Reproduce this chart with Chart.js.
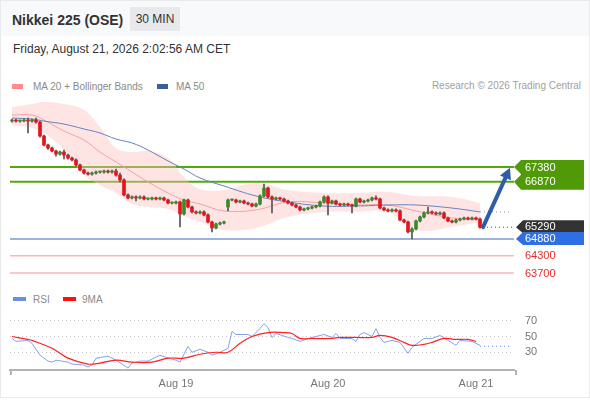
<!DOCTYPE html>
<html>
<head>
<meta charset="utf-8">
<title>Nikkei 225 (OSE)</title>
<script src="https://cdn.jsdelivr.net/npm/chart.js@4.4.1/dist/chart.umd.min.js"></script>
<style>
  html, body { margin: 0; padding: 0; background: #fff; }
  body { width: 590px; height: 400px; position: relative; overflow: hidden; font-family: "Liberation Sans", Arial, sans-serif; }
  #frame { position: absolute; left: 0; top: 0; width: 588px; height: 396px; border: 1px solid #e9eaec; }
  #head { position: absolute; left: 1px; top: 1px; width: 588px; height: 35px; background: #f8f9fa; }
  #title { position: absolute; left: 12px; top: 10px; font-size: 14px; font-weight: bold; color: #333; line-height: 20px; }
  #tf { position: absolute; left: 130px; top: 7px; width: 50px; height: 24px; line-height: 24px; text-align: center; background: #e7e9ec; color: #333; font-size: 12px; }
  #date { position: absolute; left: 13px; top: 41px; font-size: 12px; line-height: 16px; color: #333; }
  .leg { position: absolute; font-size: 10px; line-height: 12px; color: #8a8a8a; white-space: nowrap; }
  .sw { position: absolute; height: 5px; }
  canvas { position: absolute; left: 0; }
</style>
</head>
<body>
<div id="frame"></div>
<div id="head"></div>
<div id="title">Nikkei 225 (OSE)</div>
<div id="tf">30 MIN</div>
<div id="date">Friday, August 21, 2026 2:02:56 AM CET</div>

<div class="sw" style="left:12px;top:84px;width:11px;background:#ff8b8b"></div>
<div class="leg" style="left:33px;top:81px">MA 20 + Bollinger Bands</div>
<div class="sw" style="left:157px;top:84px;width:11px;background:#3a5e9e"></div>
<div class="leg" style="left:176px;top:81px">MA 50</div>
<div class="leg" style="right:9px;top:80px;color:#a0a0a0">Research © 2026 Trading Central</div>

<canvas id="price" width="590" height="190" style="top:95px"></canvas>

<div class="sw" style="left:13px;top:297px;width:13px;height:4px;background:#6b8fe6"></div>
<div class="leg" style="left:33px;top:294px">RSI</div>
<div class="sw" style="left:63px;top:297px;width:13px;height:4px;background:#ff1010"></div>
<div class="leg" style="left:82px;top:294px">9MA</div>

<canvas id="rsi" width="590" height="110" style="top:290px"></canvas>

<script>
// 30-minute candles (index = bar slot)
const opens = [
  68975, 69010, 68975, 68975, 69010, 68975, 69010, 68940, 68455, 68145,
  68040, 67935, 67830, 67900, 67795, 67690, 67625, 67450, 67275, 67170,
  67135, 67170, 67205, 67205, 67240, 67205, 67240, 67100, 66930, 66410,
  66305, 66340, 66305, 66340, 66270, 66270, 66305, 66270, 66305, 66235,
  66130, 66130, 66165, 65750, 66235, 65990, 65820, 65785, 65820, 65715,
  65470, 65265, 65400, 65435, 65990, 66235, 66235, 66165, 66200, 66130,
  66095, 66025, 66095, 66375, 66650, 66340, 66270, 66305, 66270, 66200,
  66130, 66060, 65990, 65890, 65925, 65955, 65990, 66025, 66165, 66340,
  66130, 66200, 66095, 66060, 66095, 66060, 66025, 66270, 66165, 66200,
  66235, 66305, 66270, 65955, 65890, 65855, 65890, 65855, 65540, 65470,
  65125, 65230, 65505, 65645, 65785, 65820, 65785, 65750, 65785, 65610,
  65505, 65470, 65540, 65575, 65610, 65575, 65610, 65575
];
const highs = [
  69045, 69045, 69010, 69045, 69080, 69045, 69080, 68975, 68490, 68180,
  68075, 67970, 67935, 67970, 67830, 67725, 67660, 67485, 67310, 67205,
  67205, 67240, 67240, 67275, 67275, 67275, 67310, 67170, 66965, 66445,
  66375, 66375, 66375, 66375, 66305, 66340, 66340, 66340, 66340, 66270,
  66165, 66200, 66200, 66270, 66270, 66025, 65855, 65855, 65855, 65750,
  65505, 65435, 65470, 65505, 66270, 66270, 66270, 66235, 66235, 66165,
  66130, 66130, 66410, 66790, 66685, 66375, 66340, 66340, 66305, 66235,
  66165, 66095, 66025, 65955, 65990, 66025, 66060, 66200, 66375, 66375,
  66235, 66235, 66130, 66130, 66130, 66095, 66305, 66305, 66235, 66270,
  66340, 66375, 66305, 65990, 65925, 65925, 65925, 65890, 65575, 65505,
  65265, 65540, 65680, 65820, 65990, 65855, 65820, 65820, 65820, 65645,
  65540, 65575, 65610, 65645, 65645, 65645, 65645, 65610
];
const lows = [
  68940, 68940, 68940, 68955, 68560, 68940, 68905, 68420, 68110, 67990,
  67900, 67760, 67795, 67660, 67655, 67590, 67415, 67240, 67135, 67100,
  67100, 67135, 67170, 67170, 67170, 67170, 67065, 66860, 66375, 66270,
  66270, 66200, 66270, 66235, 66235, 66235, 66235, 66235, 66200, 66095,
  66095, 66095, 65300, 65715, 65955, 65785, 65750, 65750, 65680, 65435,
  65125, 65230, 65365, 65400, 65855, 66200, 66130, 66130, 66095, 66060,
  65990, 65990, 66060, 66340, 66305, 65785, 66235, 66235, 66165, 66095,
  66025, 65955, 65855, 65855, 65890, 65925, 65955, 65990, 66130, 65715,
  66095, 66060, 66025, 66025, 66025, 65785, 65990, 66130, 66130, 66165,
  66200, 66235, 65925, 65855, 65820, 65820, 65820, 65505, 65435, 65090,
  64880, 65195, 65470, 65610, 65750, 65750, 65715, 65715, 65575, 65470,
  65435, 65435, 65505, 65540, 65540, 65540, 65540, 65255
];
const closes = [
  69010, 68975, 68975, 69010, 68975, 69010, 68940, 68455, 68145, 68040,
  67935, 67830, 67900, 67795, 67690, 67625, 67450, 67275, 67170, 67135,
  67170, 67205, 67205, 67240, 67205, 67240, 67100, 66930, 66410, 66305,
  66340, 66305, 66340, 66270, 66270, 66305, 66270, 66305, 66235, 66130,
  66130, 66165, 65750, 66235, 65990, 65820, 65785, 65820, 65715, 65470,
  65265, 65400, 65435, 65470, 66235, 66235, 66165, 66200, 66130, 66095,
  66025, 66095, 66375, 66650, 66340, 66270, 66305, 66270, 66200, 66130,
  66060, 65990, 65890, 65925, 65955, 65990, 66025, 66165, 66340, 66130,
  66200, 66095, 66060, 66095, 66060, 66025, 66270, 66165, 66200, 66235,
  66305, 66270, 65955, 65890, 65855, 65890, 65855, 65540, 65470, 65125,
  65230, 65505, 65645, 65785, 65820, 65785, 65750, 65785, 65610, 65505,
  65470, 65540, 65575, 65610, 65575, 65610, 65575, 65290
];

// moving averages / bands, read at these bar slots
const maIdx   = [0, 5, 8, 13, 18, 22, 26, 30, 34, 39, 43, 47, 53, 61, 69, 78, 86, 94, 101, 110, 117];
const ma20    = [69185, 69185, 69010, 68630, 68315, 67900, 67555, 67205, 66860, 66480, 66235, 66095, 65855, 65890, 66165, 66130, 66060, 66060, 65855, 65610, 65540];
const bbUpper = [69460, 69565, 69635, 69565, 69360, 68770, 68040, 67900, 67935, 67690, 67035, 66615, 66580, 66825, 66580, 66480, 66480, 66515, 66375, 66340, 66130];
const bbLower = [68835, 68735, 68560, 67970, 67100, 66755, 66480, 66095, 65990, 65925, 65680, 65470, 65195, 65265, 65645, 65820, 65820, 65820, 65195, 65300, 65470];
const ma50    = [69080, 69045, 68975, 68870, 68700, 68560, 68350, 68215, 67970, 67590, 67310, 67000, 66720, 66375, 66165, 66025, 66025, 66060, 66060, 65955, 65820];

// RSI and its 9 period average
const rsiIdx = [0, 1, 4, 5, 7, 9, 10, 11, 14, 15, 18, 19, 20, 21, 24, 26, 29, 30, 32, 34, 35, 37, 39, 41, 42, 44, 45, 47, 49, 50, 52, 54, 55, 56, 59, 60, 62, 63, 64, 65, 66, 69, 70, 72, 74, 76, 78, 80, 81, 82, 85, 86, 87, 88, 90, 91, 92, 93, 95, 97, 99, 100, 103, 104, 105, 107, 109, 111, 112, 115, 117];
const rsiVal = [47.5, 43.8, 45, 41.3, 26.3, 18.8, 17.5, 20, 17.5, 15, 13.8, 11.3, 13.8, 22.5, 25, 20, 10, 16.3, 18.8, 18.8, 21.3, 26.3, 22.5, 20, 17.5, 37.5, 30, 33.8, 30, 26.3, 30, 35, 56.3, 52.5, 52.5, 50, 60, 66.3, 61.3, 48.8, 53.8, 48.8, 47.5, 43.8, 47.5, 50, 52.5, 48.8, 53.8, 47.5, 47.5, 43.8, 52.5, 55, 50, 60, 48.8, 42.5, 45, 42.5, 28.8, 36.3, 47.5, 47.5, 47.5, 51.3, 45, 38.8, 45, 43.8, 38.8];
const sigIdx = [0, 4, 5, 10, 14, 19, 22, 26, 30, 35, 39, 43, 47, 51, 54, 57, 60, 64, 68, 70, 72, 75, 80, 82, 86, 90, 92, 95, 98, 100, 103, 105, 108, 111, 114, 116];
const sigVal = [50, 46.3, 45, 35, 22.5, 15, 16.3, 20, 17.5, 17.5, 22.5, 22.5, 27.5, 30, 30, 41.3, 50, 55, 55, 53.8, 47.5, 47.5, 47.5, 48.8, 48.8, 48.8, 51.3, 48.8, 42.5, 38.8, 40, 42.5, 47.5, 46.3, 46.3, 43.8];
const rsiLast = 37.5;

// key levels and labels
const resistLevels = [67380, 66870];
const pivotLevel = 64880;
const supportLevels = [64300, 63700];
const lastPrice = 65290;
const arrowTarget = 67350;
const dayTickIdx = [41, 79, 116];
const dayTickText = ['Aug 19', 'Aug 20', 'Aug 21'];
const rsiTicks = [30, 50, 70];

const slotCount = 126;
const slots = Array.from({ length: slotCount }, (_, i) => i);
const lastIdx = closes.length - 1;
const endIdx = slotCount - 1;

const upColor = '#3d8a2c';
const downColor = '#e3141c';
const font = '"Liberation Sans", Arial, sans-serif';
Chart.defaults.font.family = font;

function pts(idx, vals) {
  return idx.map((x, k) => ({ x: x, y: vals[k] }));
}

function hline(ctx, x1, x2, y, color, width, dash) {
  ctx.beginPath();
  ctx.strokeStyle = color;
  ctx.lineWidth = width;
  ctx.setLineDash(dash || []);
  ctx.moveTo(x1, y);
  ctx.lineTo(x2, y);
  ctx.stroke();
  ctx.setLineDash([]);
}

function tag(ctx, tipX, y, color) {
  ctx.beginPath();
  ctx.fillStyle = color;
  ctx.moveTo(tipX, y);
  ctx.lineTo(tipX + 7, y - 7);
  ctx.lineTo(584, y - 7);
  ctx.lineTo(584, y + 6);
  ctx.lineTo(tipX + 7, y + 6);
  ctx.closePath();
  ctx.fill();
}

const levelPlugin = {
  id: 'levels',
  beforeDatasetsDraw(chart) {
    const { ctx, chartArea: a, scales: { y } } = chart;
    ctx.save();
    supportLevels.forEach(v => hline(ctx, a.left, a.right, y.getPixelForValue(v), '#f7b7b7', 1.5));
    hline(ctx, a.left, a.right, y.getPixelForValue(pivotLevel), '#3c67c4', 1.2);
    resistLevels.forEach(v => hline(ctx, a.left, a.right, y.getPixelForValue(v), '#55a80a', 2));
    ctx.restore();
  },
  afterDraw(chart) {
    const { ctx, chartArea: a, scales: { x, y } } = chart;
    ctx.save();
    const xl = x.getPixelForValue(lastIdx) + 3;
    const yl = y.getPixelForValue(lastPrice);
    hline(ctx, xl, a.right + 1, yl, '#555', 1, [1, 3]);

    // target arrow
    const xt = x.getPixelForValue(endIdx - 0.5);
    const yt = y.getPixelForValue(arrowTarget);
    const ang = Math.atan2(yt - yl, xt - xl);
    const hl = 11;
    ctx.strokeStyle = '#2f5ea6';
    ctx.fillStyle = '#2f5ea6';
    ctx.lineWidth = 4;
    ctx.lineCap = 'round';
    ctx.beginPath();
    ctx.moveTo(xl, yl);
    ctx.lineTo(xt - Math.cos(ang) * hl * 0.8, yt - Math.sin(ang) * hl * 0.8);
    ctx.stroke();
    ctx.beginPath();
    ctx.moveTo(xt, yt);
    ctx.lineTo(xt - Math.cos(ang) * hl + Math.sin(ang) * 6, yt - Math.sin(ang) * hl - Math.cos(ang) * 6);
    ctx.lineTo(xt - Math.cos(ang) * hl - Math.sin(ang) * 6, yt - Math.sin(ang) * hl + Math.cos(ang) * 6);
    ctx.closePath();
    ctx.fill();

    // right side labels
    const tipX = a.right;
    const y1 = y.getPixelForValue(resistLevels[0]);
    const y2 = y.getPixelForValue(resistLevels[1]);
    ctx.beginPath();
    ctx.fillStyle = '#4f9a06';
    ctx.moveTo(tipX + 7, y1 - 7);
    ctx.lineTo(584, y1 - 7);
    ctx.lineTo(584, y2 + 8);
    ctx.lineTo(tipX + 7, y2 + 8);
    ctx.lineTo(tipX, y2);
    ctx.lineTo(tipX + 7, y2 - 7);
    ctx.lineTo(tipX + 7, y1 + 7);
    ctx.lineTo(tipX, y1);
    ctx.closePath();
    ctx.fill();
    tag(ctx, tipX + 2, yl, '#333333');
    tag(ctx, tipX + 2, y.getPixelForValue(pivotLevel), '#2f6fe4');

    ctx.font = '11px ' + font;
    ctx.textBaseline = 'middle';
    ctx.fillStyle = '#fff';
    resistLevels.forEach(v => ctx.fillText(String(v), 525, y.getPixelForValue(v) + 0.5));
    ctx.fillText(String(lastPrice), 525, yl);
    ctx.fillText(String(pivotLevel), 525, y.getPixelForValue(pivotLevel));
    ctx.fillStyle = '#ea2a2a';
    supportLevels.forEach(v => ctx.fillText(String(v), 525, y.getPixelForValue(v) + 0.5));
    ctx.restore();
  }
};

new Chart(document.getElementById('price'), {
  type: 'bar',
  data: {
    labels: slots,
    datasets: [
      {
        type: 'bar', order: 0, grouped: false, barThickness: 3, minBarLength: 1,
        data: opens.map((o, i) => [o, closes[i]]),
        backgroundColor: opens.map((o, i) => closes[i] >= o ? upColor : downColor)
      },
      {
        type: 'bar', order: 1, grouped: false, barThickness: 1,
        data: lows.map((l, i) => [l, highs[i]]),
        backgroundColor: '#555'
      },
      {
        type: 'line', order: 2, data: pts(maIdx, ma50),
        borderColor: '#6383c2', borderWidth: 1, pointRadius: 0, tension: 0.4
      },
      {
        type: 'line', order: 3, data: pts(maIdx, ma20),
        borderColor: '#f7a0a0', borderWidth: 1, pointRadius: 0, tension: 0.4
      },
      {
        type: 'line', order: 2, data: [{ x: lastIdx, y: ma50[ma50.length - 1] }, { x: endIdx, y: ma50[ma50.length - 1] }],
        borderColor: '#9db3e0', borderWidth: 1.2, borderDash: [1, 3], pointRadius: 0
      },
      {
        type: 'line', order: 5, data: pts(maIdx, bbUpper), fill: '+1',
        borderColor: 'transparent', backgroundColor: 'rgba(255, 190, 190, 0.42)', pointRadius: 0, tension: 0.4
      },
      {
        type: 'line', order: 6, data: pts(maIdx, bbLower),
        borderColor: 'transparent', pointRadius: 0, tension: 0.4
      }
    ]
  },
  options: {
    responsive: false,
    animation: false,
    layout: { padding: { left: 10, right: 76, top: 0, bottom: 0 } },
    plugins: { legend: { display: false }, tooltip: { enabled: false } },
    scales: {
      x: { display: false, offset: true },
      y: { display: false, min: 63283, max: 69880 }
    }
  },
  plugins: [levelPlugin]
});

// axis end ticks and RSI level labels
const rsiDecor = {
  id: 'rsiDecor',
  afterDraw(chart) {
    const { ctx, chartArea: a, scales: { y } } = chart;
    ctx.save();
    ctx.strokeStyle = '#b4b4b4';
    ctx.lineWidth = 2;
    ctx.beginPath();
    ctx.moveTo(a.left + 1, a.bottom);
    ctx.lineTo(a.left + 1, a.bottom + 5);
    ctx.moveTo(a.right + 2, a.bottom);
    ctx.lineTo(a.right + 2, a.bottom + 5);
    ctx.stroke();
    ctx.font = '11px ' + font;
    ctx.fillStyle = '#777';
    ctx.textBaseline = 'middle';
    rsiTicks.forEach(v => ctx.fillText(String(v), 525, y.getPixelForValue(v)));
    ctx.restore();
  }
};

new Chart(document.getElementById('rsi'), {
  type: 'line',
  data: {
    labels: slots,
    datasets: [
      {
        data: pts(sigIdx, sigVal), borderColor: '#ff2020', borderWidth: 1.2,
        pointRadius: 0, tension: 0.4
      },
      {
        data: pts(rsiIdx, rsiVal), borderColor: '#86a2ec', borderWidth: 1,
        pointRadius: 0, tension: 0
      },
      {
        data: [{ x: lastIdx, y: rsiLast }, { x: endIdx, y: rsiLast }], borderColor: '#86a2ec',
        borderWidth: 1.2, borderDash: [1, 3], pointRadius: 0
      }
    ]
  },
  options: {
    responsive: false,
    animation: false,
    layout: { padding: { left: 10, right: 0, top: 11, bottom: 10 } },
    plugins: { legend: { display: false }, tooltip: { enabled: false } },
    scales: {
      x: {
        offset: true,
        grid: { display: false, drawTicks: false },
        border: { display: true, color: '#b4b4b4', width: 2 },
        ticks: {
          autoSkip: false, maxRotation: 0, padding: 7, color: '#777', font: { size: 11 },
          callback: (v) => { const k = dayTickIdx.indexOf(v); return k >= 0 ? dayTickText[k] : ''; }
        },
        afterFit: (s) => { s.height = 20; }
      },
      y: {
        position: 'right', min: 7.5, max: 95,
        grid: { color: '#c9c9c9', lineWidth: 1, drawTicks: false },
        border: { display: false, dash: [1, 3] },
        ticks: { display: false },
        afterBuildTicks: (s) => { s.ticks = rsiTicks.map(v => ({ value: v })); },
        afterFit: (s) => { s.width = 76; }
      }
    }
  },
  plugins: [rsiDecor]
});
</script>
</body>
</html>
